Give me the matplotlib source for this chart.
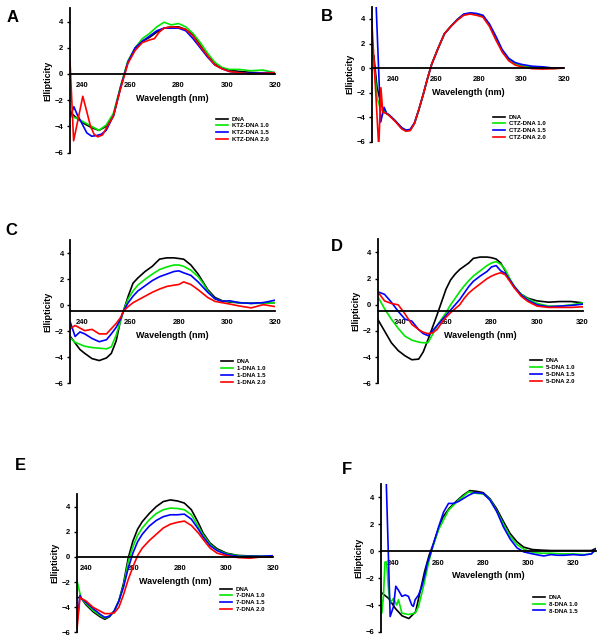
import matplotlib
matplotlib.use("Agg")
import matplotlib.pyplot as plt

W, H = 603, 641

# ---------------- Panel A (KTZ) ----------------
A_WL = [235, 238, 241, 244, 247, 250, 253, 256, 259, 262, 265, 268, 271, 274,
        277, 280, 283, 286, 289, 292, 295, 298, 301, 305, 310, 315, 320]
A_DNA = [-2.9, -3.4, -3.8, -4.1, -4.3, -4.0, -3.2, -1.0, 0.9, 1.9, 2.5, 2.8, 3.2, 3.5,
         3.6, 3.6, 3.4, 3.0, 2.2, 1.4, 0.8, 0.45, 0.3, 0.2, 0.12, 0.08, 0.0]
A_10 = [-3.2, -3.4, -3.7, -4.0, -4.3, -3.9, -3.0, -0.9, 1.0, 2.0, 2.7, 3.1, 3.6, 3.95,
        3.75, 3.85, 3.6, 3.1, 2.4, 1.6, 0.9, 0.5, 0.35, 0.35, 0.25, 0.3, 0.1]
A_WL15 = [235, 236.6, 238, 240, 242, 244, 246, 248, 250, 253, 256, 259, 262, 265, 268,
          271, 274, 277, 280, 283, 286, 289, 292, 295, 298, 301, 305, 310, 315, 320]
A_15 = [-3.3, -2.5, -3.1, -3.8, -4.5, -4.75, -4.7, -4.6, -4.3, -3.2, -1.0, 0.9, 2.0, 2.5, 2.9,
        3.3, 3.5, 3.5, 3.5, 3.3, 2.7, 2.0, 1.3, 0.7, 0.4, 0.2, 0.1, 0.05, 0.1, 0.1]
A_WL20 = [235, 236.5, 238.3, 240.3, 242, 243.5, 245, 246.5, 248.5, 250.5, 253, 256, 259,
          262, 265, 268, 270, 272, 274, 277, 280, 283, 286, 289, 292, 295, 298, 301,
          305, 310, 315, 320]
A_20 = [1.0, -5.1, -3.5, -1.7, -2.9, -4.0, -4.6, -4.8, -4.65, -4.0, -3.2, -1.1, 0.8,
        1.8, 2.4, 2.6, 2.7, 3.2, 3.5, 3.6, 3.55, 3.4, 2.9, 2.1, 1.4, 0.7, 0.4, 0.2,
        0.1, 0.0, 0.05, 0.1]

# ---------------- Panel B (CTZ) ----------------
B_WL_TAIL = [238, 241, 244, 246, 248, 250, 252, 254, 256, 258, 261, 264, 267, 270,
             273, 276, 279, 282, 285, 288, 291, 294, 297, 300, 305, 310, 315, 320]
B_WL_DNA = [231, 232.5, 234.5, 236] + B_WL_TAIL
B_DNA = [1.0, -1.6, -3.0, -3.6,
         -3.8, -4.3, -4.9, -5.1, -5.05, -4.5, -3.4, -2.2, -0.9, 0.3, 1.6, 2.8, 3.4, 3.95,
         4.35, 4.45, 4.4, 4.2, 3.5, 2.4, 1.4, 0.7, 0.35, 0.15, 0.05, 0.0, -0.02, 0.0]
B_WL_10 = [230.3, 231.5, 232.5, 234, 236] + B_WL_TAIL
B_10 = [1.5, -0.5, -2.4, -3.3, -3.6,
        -3.8, -4.3, -4.9, -5.1, -5.05, -4.5, -3.4, -2.2, -0.9, 0.3, 1.6, 2.8, 3.4, 3.95,
        4.35, 4.45, 4.4, 4.2, 3.5, 2.4, 1.4, 0.7, 0.35, 0.15, 0.05, 0.0, -0.02, 0.0]
B_WL_15 = [231.2, 234.2, 235.8, 237] + B_WL_TAIL
B_15 = [9.0, -4.4, -3.2, -3.7,
        -3.8, -4.3, -4.85, -5.05, -5.0, -4.45, -3.4, -2.2, -0.9, 0.3, 1.6, 2.8, 3.4, 3.95,
        4.4, 4.5, 4.45, 4.3, 3.6, 2.6, 1.5, 0.8, 0.45, 0.3, 0.15, 0.1, 0.0, 0.0]
B_WL_20 = [230, 233.3, 234.3, 235.2, 236.8] + B_WL_TAIL
B_20 = [4.0, -6.5, -1.6, -3.6, -3.7,
        -3.85, -4.35, -4.95, -5.15, -5.1, -4.5, -3.4, -2.2, -0.9, 0.3, 1.6, 2.8, 3.4, 3.9,
        4.3, 4.4, 4.3, 4.15, 3.4, 2.3, 1.3, 0.6, 0.25, 0.1, -0.05, -0.08, -0.05, 0.0]

# ---------------- Panel C (compound 1) ----------------
C_WL = [235, 237, 239, 241, 244, 247, 250, 252, 254, 256, 257, 259, 261, 263, 266, 269,
        272, 275, 278, 280, 282, 285, 288, 290, 292, 295, 298, 301, 305, 310, 315, 320]
C_DNA = [-2.4, -2.9, -3.4, -3.7, -4.1, -4.25, -4.05, -3.7, -2.75, -1.0, -0.45, 0.7, 1.7,
         2.1, 2.6, 3.0, 3.55, 3.65, 3.65, 3.6, 3.55, 3.1, 2.4, 1.8, 1.2, 0.6, 0.35, 0.25,
         0.2, 0.15, 0.2, 0.2]
C_10 = [-2.5, -2.85, -3.0, -3.15, -3.25, -3.3, -3.35, -3.2, -2.3, -1.1, -0.45, 0.5, 1.1,
        1.55, 2.0, 2.4, 2.75, 2.95, 3.1, 3.1, 3.0, 2.7, 2.2, 1.7, 1.1, 0.5, 0.3, 0.3,
        0.2, 0.15, 0.15, 0.2]
C_15 = [-1.3, -2.4, -2.05, -2.2, -2.55, -2.8, -2.65, -2.2, -1.7, -1.0, -0.45, 0.2, 0.7,
        1.1, 1.5, 1.9, 2.2, 2.4, 2.6, 2.65, 2.5, 2.3, 1.8, 1.4, 1.0, 0.5, 0.3, 0.35,
        0.2, 0.15, 0.2, 0.4]
C_20 = [-1.8, -1.55, -1.75, -1.95, -1.85, -2.2, -2.2, -1.8, -1.4, -0.9, -0.45, -0.1, 0.2,
        0.4, 0.7, 1.0, 1.25, 1.45, 1.55, 1.6, 1.8, 1.6, 1.2, 0.9, 0.6, 0.3, 0.2, 0.1,
        -0.05, -0.2, 0.05, -0.1]

# ---------------- Panel D (compound 5) ----------------
D_WL = [230, 233, 236, 239, 242, 245, 248, 250, 252, 254, 256, 258, 260, 262, 264, 266,
        268, 270, 272, 275, 278, 280, 282, 284, 286, 288, 290, 293, 296, 300, 305, 310,
        315, 320]
D_DNA = [-1.1, -2.0, -2.9, -3.5, -3.9, -4.2, -4.15, -3.6, -2.7, -1.75, -0.8, 0.2, 1.2,
         1.9, 2.35, 2.7, 2.95, 3.2, 3.55, 3.65, 3.65, 3.6, 3.5, 3.2, 2.6, 1.9, 1.3, 0.8,
         0.5, 0.3, 0.2, 0.25, 0.25, 0.15]
D_10 = [0.65, -0.3, -1.1, -1.8, -2.4, -2.7, -2.85, -2.9, -2.9, -2.3, -1.6, -1.1, -0.6,
        0.0, 0.5, 1.0, 1.45, 1.85, 2.2, 2.6, 3.0, 3.2, 3.3, 3.1, 2.7, 2.0, 1.4, 0.8,
        0.45, 0.1, -0.1, -0.1, 0.0, 0.15]
D_15 = [1.0, 0.8, 0.2, -0.5, -1.1, -1.25, -1.9, -2.2, -2.35, -2.0, -1.6, -1.2, -0.8,
        -0.4, 0.0, 0.4, 0.9, 1.4, 1.8, 2.2, 2.55, 2.9, 3.0, 2.6, 2.4, 1.9, 1.4, 0.75,
        0.35, 0.0, -0.15, -0.1, -0.05, 0.05]
D_20 = [1.0, 0.3, 0.1, 0.0, -0.7, -1.5, -1.9, -2.1, -2.2, -2.15, -1.9, -1.4, -0.95,
        -0.6, -0.3, 0.0, 0.5, 0.9, 1.2, 1.6, 2.0, 2.2, 2.35, 2.45, 2.3, 1.8, 1.3, 0.65,
        0.25, -0.1, -0.2, -0.2, -0.2, -0.15]

# ---------------- Panel E (compound 7) ----------------
E_WL = [236, 237.4, 238, 240, 243, 246, 248, 250, 252, 254, 256, 258, 260, 262, 264, 267,
        270, 273, 276, 279, 282, 285, 288, 290, 293, 296, 300, 305, 310, 315, 320]
E_DNA = [-3.2, -3.25, -3.3, -3.8, -4.35, -4.75, -4.95, -4.75, -4.3, -3.5, -2.1, -0.1,
         1.25, 2.2, 2.8, 3.45, 4.0, 4.4, 4.53, 4.45, 4.28, 3.75, 2.7, 1.9, 1.1, 0.65,
         0.3, 0.12, 0.08, 0.05, 0.03]
E_10 = [-1.8, -2.9, -3.3, -3.7, -4.25, -4.65, -4.85, -4.7, -4.3, -3.5, -2.3, -0.4, 0.8,
        1.7, 2.3, 2.95, 3.45, 3.75, 3.88, 3.85, 3.75, 3.35, 2.4, 1.75, 1.0, 0.55, 0.25,
        0.1, 0.05, 0.05, 0.05]
E_15 = [-5.5, -3.05, -3.3, -3.6, -4.1, -4.55, -4.8, -4.7, -4.3, -3.5, -2.4, -0.9, 0.3,
        1.2, 1.8, 2.45, 2.9, 3.2, 3.35, 3.35, 3.4, 3.0, 2.2, 1.6, 0.9, 0.5, 0.2, 0.05,
        0.05, 0.05, 0.1]
E_20 = [-6.0, -3.2, -3.3, -3.5, -4.0, -4.3, -4.5, -4.5, -4.45, -4.0, -3.0, -1.8, -0.8,
        0.1, 0.7, 1.3, 1.8, 2.3, 2.6, 2.75, 2.85, 2.5, 1.9, 1.4, 0.7, 0.3, 0.1, -0.05,
        -0.1, 0.0, 0.0]

# ---------------- Panel F (compound 8) ----------------
F_WL = [235, 238, 241, 244, 247, 250, 252, 254, 256, 258, 260, 262, 265, 268, 271, 274,
        277, 280, 283, 286, 289, 292, 295, 298, 302, 306, 310, 315, 320, 325, 328, 330]
F_DNA = [-3.1, -3.5, -4.25, -4.8, -5.0, -4.5, -3.0, -1.5, -0.3, 0.6, 1.6, 2.5, 3.2, 3.7,
         4.15, 4.5, 4.45, 4.35, 3.9, 3.15, 2.2, 1.3, 0.7, 0.3, 0.12, 0.08, 0.05, 0.05,
         0.05, 0.05, 0.05, 0.2]
F_WL10 = [234.5, 235, 235.7, 236.4, 237.1, 238, 238.7, 240.2, 241.6, 242.4, 243.9, 246.8,
          249.8, 251.3, 253.5, 255.7, 257.2, 260.2, 264.6, 269.1, 273.5, 277, 280, 283,
          286, 289, 292, 295, 298, 302, 306, 310, 315, 320, 325, 328, 330]
F_10 = [-2.5, -4.6, -3.4, -0.8, -0.8, -2.9, -3.85, -3.5, -4.0, -3.6, -4.6, -4.7, -4.6,
        -4.1, -2.6, -0.9, 0.1, 1.6, 3.05, 3.8, 4.4, 4.3, 4.25, 3.85, 3.0, 2.0, 1.1, 0.5,
        0.15, -0.1, -0.15, -0.15, -0.2, -0.2, -0.25, -0.2, 0.1]
F_WL15 = [236.3, 238.7, 240.2, 241.2, 242.4, 243.9, 245.4, 246.8, 248.3, 249, 249.8, 251.3,
          252.8, 254.3, 255, 256.4, 258, 260.2, 262.4, 264.6, 266.8, 269.1, 273.5, 276,
          280, 283, 286, 289, 292, 295, 298, 302, 305, 307, 310, 313, 316, 320, 324, 328,
          330]
F_15 = [9.0, -4.85, -4.1, -2.6, -2.9, -3.35, -3.25, -3.35, -4.0, -4.1, -3.6, -3.25, -2.6,
        -1.6, -1.0, -0.3, 0.6, 1.8, 2.9, 3.55, 3.55, 3.7, 4.15, 4.35, 4.3, 3.8, 2.95, 1.8,
        0.9, 0.25, -0.05, -0.2, -0.3, -0.35, -0.25, -0.3, -0.3, -0.25, -0.3, -0.2, 0.15]

COLORS = ["#000000", "#00e600", "#0000ff", "#ff0000"]

plt.rcParams['font.family'] = ['Liberation Sans', 'DejaVu Sans']
plt.rcParams['font.weight'] = 'bold'

fig = plt.figure(figsize=(W / 100, H / 100), dpi=100)


def panel(letter, letter_xy, box, xlim, axis_y, xticks, series, labels, leg_xy):
    left, right, top, bottom = box
    ax = fig.add_axes([left / W, 1 - bottom / H, (right - left) / W, (bottom - top) / H])
    for (wl, vals), lab, col in zip(series, labels, COLORS):
        ax.plot(wl, vals, color=col, lw=1.2, label=lab)
    ax.set_xlim(*xlim)
    ax.set_ylim(-6, 5)
    ax.spines['top'].set_visible(False)
    ax.spines['right'].set_visible(False)
    ax.spines['bottom'].set_position(('data', axis_y))
    ax.spines['left'].set_linewidth(1.3)
    ax.spines['bottom'].set_linewidth(1.3)
    ax.set_xticks(xticks)
    ax.set_yticks([-6, -4, -2, 0, 2, 4])
    ax.tick_params(axis='y', length=2.2, width=1, pad=2.5, labelsize=5.5)
    ax.tick_params(axis='x', length=0, pad=6, labelsize=5.5)
    ax.annotate("Wavelength (nm)", xy=(0.5, axis_y), xycoords=('axes fraction', 'data'),
                xytext=(0, -20), textcoords='offset pixels', ha='center', va='top',
                fontsize=6.5, fontweight='bold')
    ax.annotate("Ellipticity", xy=(0, 0.5), xycoords='axes fraction',
                xytext=(-22, 0), textcoords='offset pixels', rotation=90,
                ha='center', va='center', fontsize=6.5, fontweight='bold')
    lx, ly = leg_xy
    ax.legend(loc='upper left', bbox_to_anchor=(lx / W, 1 - (ly - 3.6) / H),
              bbox_transform=fig.transFigure, frameon=False, borderpad=0,
              borderaxespad=0, prop={'size': 4.4, 'weight': 'bold'},
              handlelength=2.0, handletextpad=0.6, labelspacing=0.25)
    fig.text(letter_xy[0] / W, 1 - letter_xy[1] / H, letter, ha='center', va='center',
             fontsize=12, fontweight='bold')
    return ax


ticks = [240, 260, 280, 300, 320]

panel("A", (12.5, 17.5), (70, 275, 8.5, 152.6), (235, 320), 0, ticks,
      [(A_WL, A_DNA), (A_WL, A_10), (A_WL15, A_15), (A_WL20, A_20)],
      ["DNA", "KTZ-DNA 1.0", "KTZ-DNA 1.5", "KTZ-DNA 2.0"], (216, 120))

panel("B", (327, 16.3), (371.7, 564.3, 6.7, 141.7), (230, 320), 0, ticks,
      [(B_WL_DNA, B_DNA), (B_WL_10, B_10), (B_WL_15, B_15), (B_WL_20, B_20)],
      ["DNA", "CTZ-DNA 1.0", "CTZ-DNA 1.5", "CTZ-DNA 2.0"], (492.7, 118))

panel("C", (11.7, 230.8), (70.3, 275.3, 240.3, 383.3), (235, 320), -0.45, ticks,
      [(C_WL, C_DNA), (C_WL, C_10), (C_WL, C_15), (C_WL, C_20)],
      ["DNA", "1-DNA 1.0", "1-DNA 1.5", "1-DNA 2.0"], (220.7, 362.7))

panel("D", (336.7, 246.7), (377.7, 582.7, 239.4, 383.3), (230, 320), -0.45, ticks,
      [(D_WL, D_DNA), (D_WL, D_10), (D_WL, D_15), (D_WL, D_20)],
      ["DNA", "5-DNA 1.0", "5-DNA 1.5", "5-DNA 2.0"], (530, 361.7))

panel("E", (20, 465), (76.7, 273.3, 494, 632.5), (236, 320), 0, ticks,
      [(E_WL, E_DNA), (E_WL, E_10), (E_WL, E_15), (E_WL, E_20)],
      ["DNA", "7-DNA 1.0", "7-DNA 1.5", "7-DNA 2.0"], (220, 590))

panel("F", (346.7, 469.5), (380.7, 595.8, 483.9, 632), (234.5, 330), 0, ticks,
      [(F_WL, F_DNA), (F_WL10, F_10), (F_WL15, F_15)],
      ["DNA", "8-DNA 1.0", "8-DNA 1.5"], (533, 598.3))

fig.savefig("out.png", dpi=100)
